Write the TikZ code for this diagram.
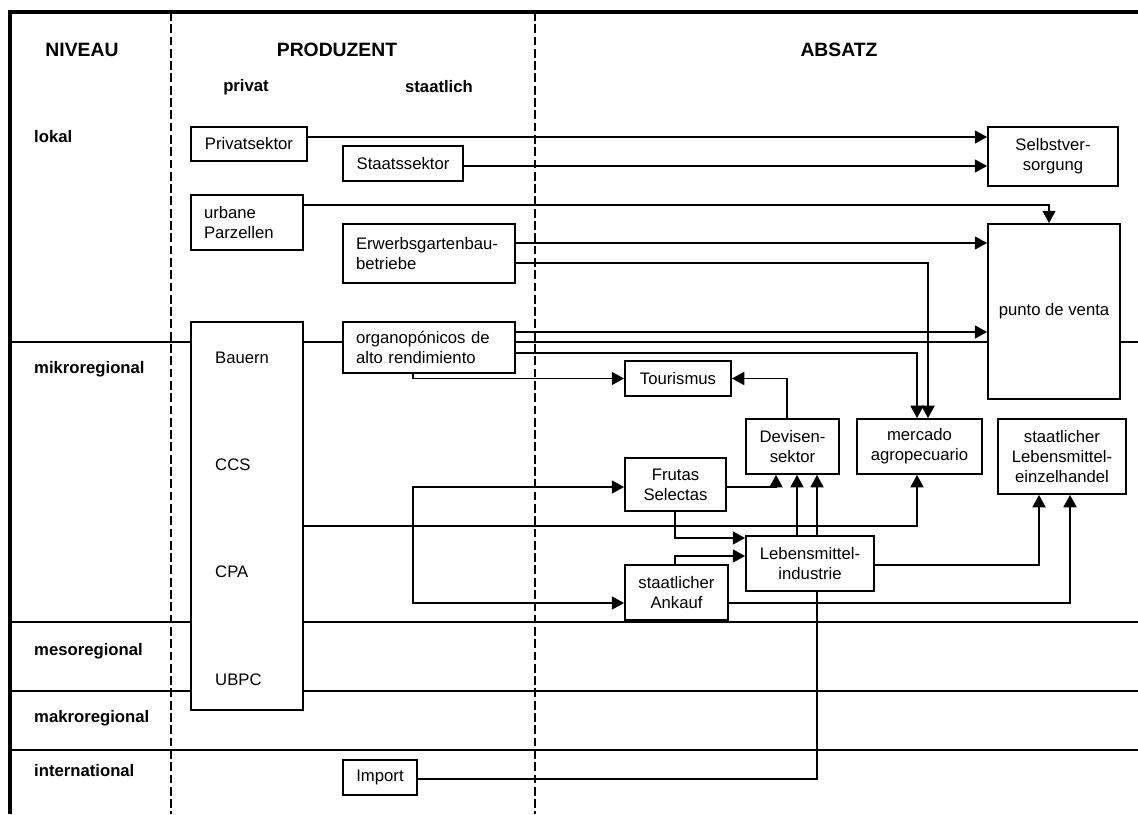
\documentclass[tikz,border=0pt]{standalone}
\usepackage{fontspec}
\setmainfont{Liberation Sans}
\usetikzlibrary{arrows.meta,backgrounds}

\begin{document}
\begin{tikzpicture}[
  x=0.02cm,
  y=-0.02cm,
  box/.style={
    draw,
    line width=1.1pt,
    fill=white,
    align=center,
    inner sep=2pt,
    font=\fontsize{9.5}{11.4}\selectfont
  },
  lbox/.style={
    box,
    align=left,
    inner xsep=0.26cm
  },
  header/.style={font=\bfseries\fontsize{11}{13}\selectfont},
  sub/.style={font=\bfseries\fontsize{9.5}{11.4}\selectfont},
  niveau/.style={anchor=west, font=\bfseries\fontsize{9.5}{11.4}\selectfont},
  entry/.style={anchor=west, font=\fontsize{9.5}{11.4}\selectfont},
  levelline/.style={line width=0.7pt},
  colsep/.style={line width=0.6pt, dash pattern=on 5pt off 2pt},
  arr/.style={line width=0.7pt, -{Triangle[length=7pt,width=7.5pt]}},
  link/.style={line width=0.7pt},
]
\useasboundingbox (0,0) rectangle (1138,814);

% headings
\node[header] (hNiveau) at (82,50) {NIVEAU};
\node[header] (hProd) at (337,50) {PRODUZENT};
\node[header] (hAbsatz) at (839,50) {ABSATZ};
\node[sub] (hPrivat) at (246,87) {privat};
\node[sub] (hStaat) at (439,87) {staatlich};

\node[niveau] (nLokal) at (28,137) {lokal};
\node[niveau] (nMikro) at (28,369) {mikroregional};
\node[niveau] (nMeso) at (28,651) {mesoregional};
\node[niveau] (nMakro) at (28,718) {makroregional};
\node[niveau] (nInter) at (28,771) {international};

% producers
\node[box, minimum width=2.32cm, minimum height=0.68cm] (priv) at (249,144) {Privatsektor};
\node[box, minimum width=2.4cm, minimum height=0.7cm] (staat) at (403,163.5) {Staatssektor};
\node[lbox, text width=1.72cm, minimum height=1.1cm] (urban) at (247,222.5) {urbane\\Parzellen};
\node[lbox, text width=2.92cm, minimum height=1.18cm] (erwerb) at (429,253.5) {Erwerbsgartenbau-\\betriebe};
\node[box, minimum width=2.24cm, minimum height=7.76cm] (bauern) at (247,516) {};
\node[lbox, text width=2.92cm, minimum height=1.02cm] (organo) at (429,347.5) {organopónicos de\\alto rendimiento};
\node[box, minimum width=1.48cm, minimum height=0.7cm] (import) at (380,777.5) {Import};

\node[entry] (eBauern) at (209,358) {Bauern};
\node[entry] (eCCS) at (209,465) {CCS};
\node[entry] (eCPA) at (209,572) {CPA};
\node[entry] (eUBPC) at (209,680) {UBPC};

% sales
\node[box, minimum width=2.6cm, minimum height=1.18cm] (selbst) at (1053,156.5) {Selbstver-\\sorgung};
\node[box, minimum width=2.64cm, minimum height=3.5cm] (punto) at (1054,311.5) {punto de venta};
\node[box, minimum width=2.12cm, minimum height=0.7cm] (tour) at (678,378.5) {Tourismus};
\node[box, minimum width=1.86cm, minimum height=1.1cm] (devisen) at (792.5,446.5) {Devisen-\\sektor};
\node[box, minimum width=2.5cm, minimum height=1.1cm] (mercado) at (919.5,446.5) {mercado\\agropecuario};
\node[box, minimum width=2.56cm, minimum height=1.5cm] (leh) at (1062,456.5) {staatlicher\\Lebensmittel-\\einzelhandel};
\node[box, minimum width=2.02cm, minimum height=1.06cm] (frutas) at (675.5,484.5) {Frutas\\Selectas};
\node[box, minimum width=2.56cm, minimum height=1.1cm] (lmi) at (810,563.5) {Lebensmittel-\\industrie};
\node[box, minimum width=2.06cm, minimum height=1.1cm] (ankauf) at (676.5,592.5) {staatlicher\\Ankauf};

\coordinate (split) at (413,526);

\begin{scope}[on background layer]
  \draw[line width=1.8pt] (10,814) -- (10,12) -- (1138,12);
  \foreach \y in {342,622,691,750}
    \draw[levelline] (10,\y) -- (1138,\y);
  \foreach \x in {171,535}
    \draw[colsep] (\x,12) -- (\x,814);

  \draw[arr] (priv.east |- 0,137) -- (selbst.west |- 0,137);
  \draw[arr] (staat.east |- 0,166) -- (selbst.west |- 0,166);
  \draw[arr] (urban.east |- 0,205) -| (punto.north -| 1049,0);
  \draw[arr] (erwerb.east |- 0,243) -- (punto.west |- 0,243);
  \draw[arr] (erwerb.east |- 0,263) -| (mercado.north -| 928,0);
  \draw[arr] (organo.east |- 0,332) -- (punto.west |- 0,332);
  \draw[arr] (organo.east |- 0,353) -| (mercado.north -| 917,0);
  \draw[arr] (organo.south -| 413,0) |- (tour.west);
  \draw[arr] (devisen.north -| 787,0) |- (tour.east);

  \draw[arr] (bauern.east |- split) -| (mercado.south -| 917,0);
  \draw[arr] (split) |- (frutas.west |- 0,487);
  \draw[arr] (split) |- (ankauf.west |- 0,603);
  \draw[arr] (frutas.east |- 0,487) -| (devisen.south -| 776,0);
  \draw[arr] (frutas.south -| 675,0) |- (lmi.west |- 0,538);
  \draw[arr] (ankauf.north -| 675,0) |- (lmi.west |- 0,556);
  \draw[arr] (lmi.north -| 797,0) -- (devisen.south -| 797,0);
  \draw[arr] (lmi.north -| 817,0) -- (devisen.south -| 817,0);
  \draw[arr] (lmi.east |- 0,565) -| (leh.south -| 1039,0);
  \draw[arr] (ankauf.east |- 0,603) -| (leh.south -| 1070,0);
  \draw[link] (import.east |- 0,779) -| (lmi.south -| 817,0);
\end{scope}
\end{tikzpicture}
\end{document}
